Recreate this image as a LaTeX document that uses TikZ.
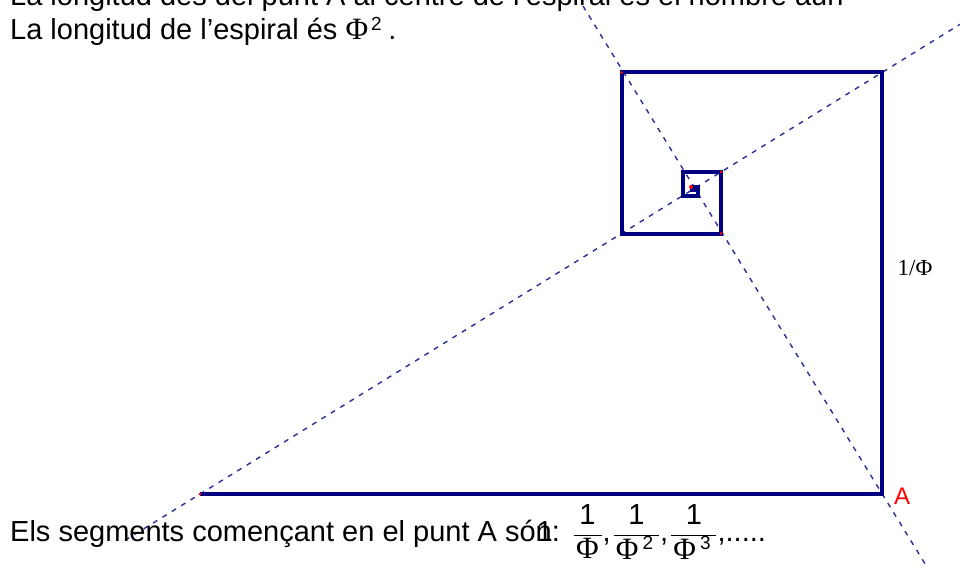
\documentclass[tikz,border=0pt]{standalone}
\usepackage{fontspec}
\setmainfont{Liberation Sans}
\newfontfamily\serifphi{Liberation Serif}
\definecolor{navy}{RGB}{0,0,128}
\definecolor{dashblue}{RGB}{45,45,155}
\definecolor{ptred}{RGB}{255,0,0}
\newcommand{\bigphi}{{\serifphi\fontsize{31}{34}\selectfont Φ}}
\newcommand{\PhiS}{\mbox{\bigphi}}
\newcommand{\supsz}[1]{\mbox{\fontsize{19}{19}\selectfont #1}}
\newcommand{\numone}[1]{\makebox[#1]{1}}
\newcommand{\denpow}[1]{\makebox[45pt][l]{\kern2pt\bigphi\kern4pt\raisebox{10pt}{\supsz{#1}}}}
\begin{document}
\begin{tikzpicture}[x=1pt,y=-1pt,
  spiral/.style={draw=navy,line width=4pt,line join=miter},
  diag/.style={draw=dashblue,line width=1.4pt,dash pattern=on 5pt off 6pt},
  txt/.style={inner sep=0pt,anchor=base west,font=\fontsize{29}{34}\selectfont},
  ptdot/.style={fill=ptred,circle,inner sep=0pt,minimum size=3pt}]
\useasboundingbox[fill=white] (0,0) rectangle (960,567);
% spiral points
\coordinate (P0) at (200,494);
\coordinate (A) at (882,494);
\coordinate (P2) at (882,72.5);
\coordinate (P3) at (621.5,72.5);
\coordinate (P4) at (621.5,233.5);
\coordinate (P5) at (721,233.5);
\coordinate (P6) at (721,172);
\coordinate (P7) at (683,172);
\coordinate (P8) at (683,195.5);
\coordinate (P9) at (697.5,195.5);
\coordinate (P10) at (697.5,186.5);
\coordinate (P11) at (691.95,186.5);
\coordinate (P12) at (691.95,189.93);
\coordinate (P13) at (694.07,189.93);
\coordinate (P14) at (694.07,188.62);
% diagonals
\coordinate (d1s) at (125,540.4);
\coordinate (d1e) at (960,24.3);
\coordinate (d2s) at (583,6);
\coordinate (d2e) at (927,567);
\draw[diag] (d1s) -- (d1e);
\draw[diag] (d2s) -- (d2e);
% spiral
\draw[spiral] (P0) -- (A) -- (P2) -- (P3) -- (P4) -- (P5) -- (P6) -- (P7) -- (P8) -- (P9) -- (P10) -- (P11) -- (P12) -- (P13) -- (P14);
% red points
\foreach \p in {P0,P3,P5,P6}{\node[ptdot] at (\p) {};}
\node[ptdot,minimum size=4pt] (cdot) at (691,187) {};
% labels
\node[inner sep=0pt,font=\serifphi\fontsize{23}{26}\selectfont] (lphi) at (915,268.5) {1/Φ};
\node[inner sep=0pt,text=ptred,font=\fontsize{24}{27}\selectfont] (lA) at (902,496) {A};
% texts
\node[txt] (line1) at (10,6) {La longitud des del punt A al centre de l’espiral és el nombre auri};
\node[txt] (line2) at (10,40) {La longitud de l’espiral és \(\PhiS\kern3pt^{\supsz{2}}\)\kern6pt.};
\node[txt] (bottom) at (10,541) {Els segments començant en el punt A són\llap{1\kern-1pt}:};
\node[txt,anchor=base west] (fracs) at ([xshift=12pt]bottom.base east) {\(\displaystyle\frac{\numone{28pt}}{\makebox[28pt]{\bigphi}}\mbox{,}\kern2pt\frac{\numone{45pt}}{\denpow{2}}\mbox{,}\kern2pt\frac{\numone{45pt}}{\denpow{3}}\)\mbox{,.....}};
\end{tikzpicture}
\end{document}
